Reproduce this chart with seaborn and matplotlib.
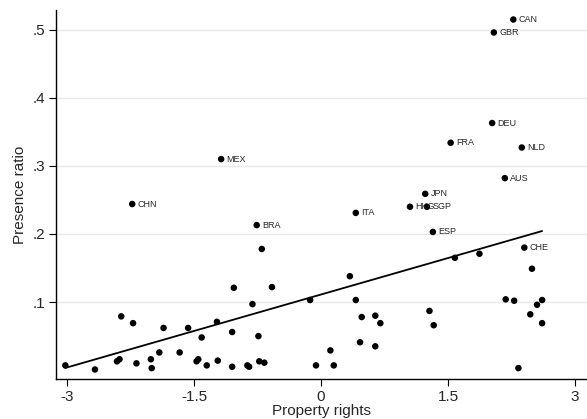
import numpy as np
import pandas as pd
import matplotlib
matplotlib.use('Agg')
import matplotlib.pyplot as plt
import seaborn as sns

# labelled countries
codes = ['CAN', 'GBR', 'DEU', 'FRA', 'NLD', 'AUS', 'JPN', 'HKG', 'SGP',
         'ITA', 'ESP', 'CHE', 'MEX', 'CHN', 'BRA']
code_x = [2.27, 2.04, 2.02, 1.53, 2.37, 2.17, 1.23, 1.05, 1.25,
          0.41, 1.32, 2.40, -1.18, -2.23, -0.76]
code_y = [0.515, 0.496, 0.363, 0.334, 0.327, 0.282, 0.259, 0.240, 0.240,
          0.231, 0.203, 0.180, 0.310, 0.244, 0.213]

# unlabelled countries
other_x = [-3.02, -2.67, -2.36, -2.41, -2.38, -2.22, -2.18, -2.01, -2.00, -1.91,
           -1.86, -1.67, -1.57, -1.47, -1.45, -1.41, -1.35, -1.23, -1.22, -1.05,
           -1.05, -1.03, -0.87, -0.85, -0.81, -0.74, -0.73, -0.67, -0.70, -0.58,
           -0.13, -0.06, 0.11, 0.15, 0.34, 0.41, 0.48, 0.46, 0.64, 0.64,
           0.70, 1.28, 1.33, 1.58, 1.87, 2.18, 2.28, 2.33, 2.47, 2.49,
           2.55, 2.61, 2.61]
other_y = [0.007, 0.001, 0.079, 0.013, 0.016, 0.069, 0.010, 0.016, 0.003, 0.026,
           0.062, 0.026, 0.062, 0.013, 0.016, 0.048, 0.007, 0.071, 0.014, 0.056,
           0.005, 0.121, 0.007, 0.005, 0.097, 0.050, 0.013, 0.011, 0.178, 0.122,
           0.103, 0.007, 0.029, 0.007, 0.138, 0.103, 0.078, 0.041, 0.080, 0.035,
           0.069, 0.087, 0.066, 0.165, 0.171, 0.104, 0.102, 0.003, 0.082, 0.149,
           0.096, 0.103, 0.069]

x_ticks = [-3, -1.5, 0, 1.5, 3]
x_ticklabels = ['-3', '-1.5', '0', '1.5', '3']
y_ticks = [0.1, 0.2, 0.3, 0.4, 0.5]
y_ticklabels = ['.1', '.2', '.3', '.4', '.5']

df = pd.DataFrame({'prop': code_x + other_x, 'pres': code_y + other_y})

sns.set_style('white')
plt.rcParams['font.family'] = ['Liberation Sans', 'DejaVu Sans']

fig = plt.figure(figsize=(5.87, 4.19), dpi=100)
ax = fig.add_subplot(111)
fig.subplots_adjust(left=56/587, right=1.0, bottom=1-379/419, top=1-10/419)

for yt in y_ticks:
    ax.axhline(yt, color='#eaeaea', lw=1.0, zorder=0)

sns.regplot(data=df, x='prop', y='pres', scatter=False, ci=None, ax=ax,
            line_kws=dict(color='black', lw=1.3))
sns.scatterplot(data=df, x='prop', y='pres', ax=ax, color='black', s=22,
                edgecolor='none', zorder=3)

for c, xv, yv in zip(codes, code_x, code_y):
    ax.annotate(c, (xv, yv), xytext=(4, 0), textcoords='offset points',
                va='center', ha='left', fontsize=6.5)

ax.set_xlim(-3.13, 3.14)
ax.set_ylim(-0.013, 0.529)
ax.set_xticks(x_ticks)
ax.set_xticklabels(x_ticklabels)
ax.set_yticks(y_ticks)
ax.set_yticklabels(y_ticklabels)
ax.tick_params(axis='both', direction='out', length=5, width=0.8, labelsize=11,
               color='black', left=True, bottom=True, pad=3)
for s in ['top', 'right']:
    ax.spines[s].set_visible(False)
for s in ['left', 'bottom']:
    ax.spines[s].set_color('black')
    ax.spines[s].set_linewidth(1.0)

ax.set_xlabel('Property rights', fontsize=11, labelpad=0)
ax.set_ylabel('Presence ratio', fontsize=11, labelpad=4)

fig.savefig('out.png', dpi=100)
